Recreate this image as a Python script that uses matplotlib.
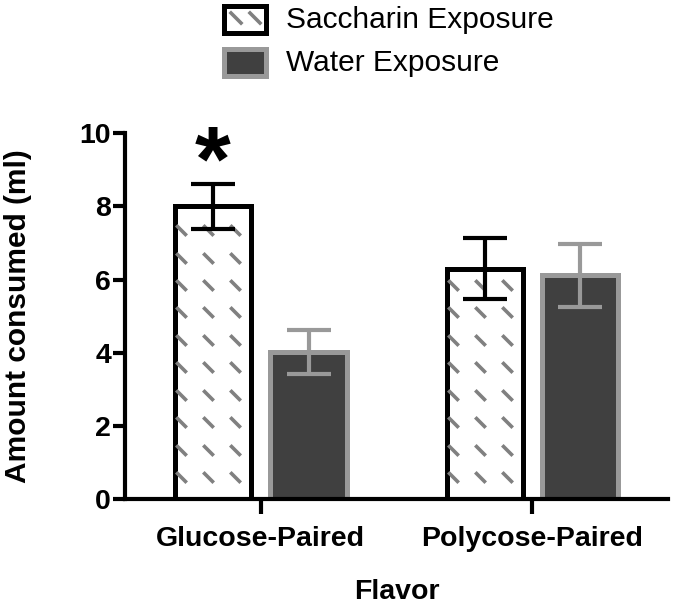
import numpy as np
import matplotlib
matplotlib.use('Agg')
from matplotlib import pyplot as plt
from matplotlib.patches import Rectangle
from matplotlib.path import Path
from matplotlib.lines import Line2D

plt.rcParams['font.family'] = ['Liberation Sans', 'DejaVu Sans']

# data
categories = ['Glucose-Paired', 'Polycose-Paired']
saccharin_mean = [8.0, 6.3]
saccharin_sem = [0.62, 0.84]
water_mean = [4.02, 6.12]
water_sem = [0.61, 0.86]
series_names = ['Saccharin Exposure', 'Water Exposure']

dark = '#404040'
grey = '#999999'
dash_col = '#808080'

fig = plt.figure(figsize=(6.75, 6.05), dpi=100)
ax = fig.add_axes([0.185, 0.175, 0.805, 0.605])

x = np.arange(len(categories))
w = 0.28
off = 0.176

b1 = ax.bar(x - off, saccharin_mean, w, color='white', edgecolor='black', linewidth=3.6, zorder=2)
b2 = ax.bar(x + off, water_mean, w, color=dark, edgecolor=grey, linewidth=3.6, zorder=2)

ax.errorbar(x - off, saccharin_mean, yerr=saccharin_sem, fmt='none', ecolor='black',
            elinewidth=3, capsize=15.5, capthick=3, zorder=4)
ax.errorbar(x + off, water_mean, yerr=water_sem, fmt='none', ecolor=grey,
            elinewidth=3, capsize=15.5, capthick=3, zorder=4)

# dashed pattern inside saccharin bars
dash = Path([(-1, 1), (1, -1)], [Path.MOVETO, Path.LINETO])
for bar in b1:
    x0 = bar.get_x()
    xs = x0 + 0.022 + 0.1 * np.arange(3)
    ys = np.arange(0.6, bar.get_height(), 0.75)
    gx, gy = np.meshgrid(xs, ys)
    ln, = ax.plot(gx.ravel(), gy.ravel(), linestyle='none', marker=dash, markersize=7.5,
                  markeredgewidth=2.6, markeredgecolor=dash_col, zorder=2.5)
    ln.set_clip_path(bar)

# significance star
ax.text(x[0] - off, saccharin_mean[0] + saccharin_sem[0] - 0.7, '*', ha='center', va='bottom',
        fontsize=66, fontweight='bold')

ax.set_xlim(-0.5, 1.5)
ax.set_ylim(0, 10)
ax.set_yticks([0, 2, 4, 6, 8, 10])
ax.set_xticks(x)
ax.set_xticklabels(categories)
for s in ['top', 'right']:
    ax.spines[s].set_visible(False)
for s in ['left', 'bottom']:
    ax.spines[s].set_linewidth(3)
ax.tick_params(axis='y', length=9, width=3, pad=1, labelsize=20.5)
ax.tick_params(axis='x', length=11, width=3, pad=8, labelsize=20.5)
for lab in ax.get_xticklabels() + ax.get_yticklabels():
    lab.set_fontweight('bold')
ax.set_ylabel('Amount consumed (ml)', fontsize=21.5, fontweight='bold', labelpad=34)
ax.set_xlabel('Flavor', fontsize=20.5, fontweight='bold', labelpad=20)

# legend drawn by hand
W, H = 675.0, 605.0
def fx(px):
    return px / W
def fy(py):
    return 1 - py / H

r1 = Rectangle((fx(224), fy(33)), fx(42), 27 / H, transform=fig.transFigure,
               facecolor='white', edgecolor='black', linewidth=3.6)
fig.add_artist(r1)
for cx in [236, 255]:
    fig.add_artist(Line2D([fx(cx - 5), fx(cx + 5)], [fy(13), fy(23)], transform=fig.transFigure,
                          color=dash_col, linewidth=2.6))
r2 = Rectangle((fx(224), fy(76)), fx(42), 27 / H, transform=fig.transFigure,
               facecolor=dark, edgecolor=grey, linewidth=3.6)
fig.add_artist(r2)
fig.text(fx(286), fy(20), series_names[0], fontsize=21.5, va='center', ha='left')
fig.text(fx(286), fy(63), series_names[1], fontsize=21.5, va='center', ha='left')

fig.savefig('out.png', dpi=100)
